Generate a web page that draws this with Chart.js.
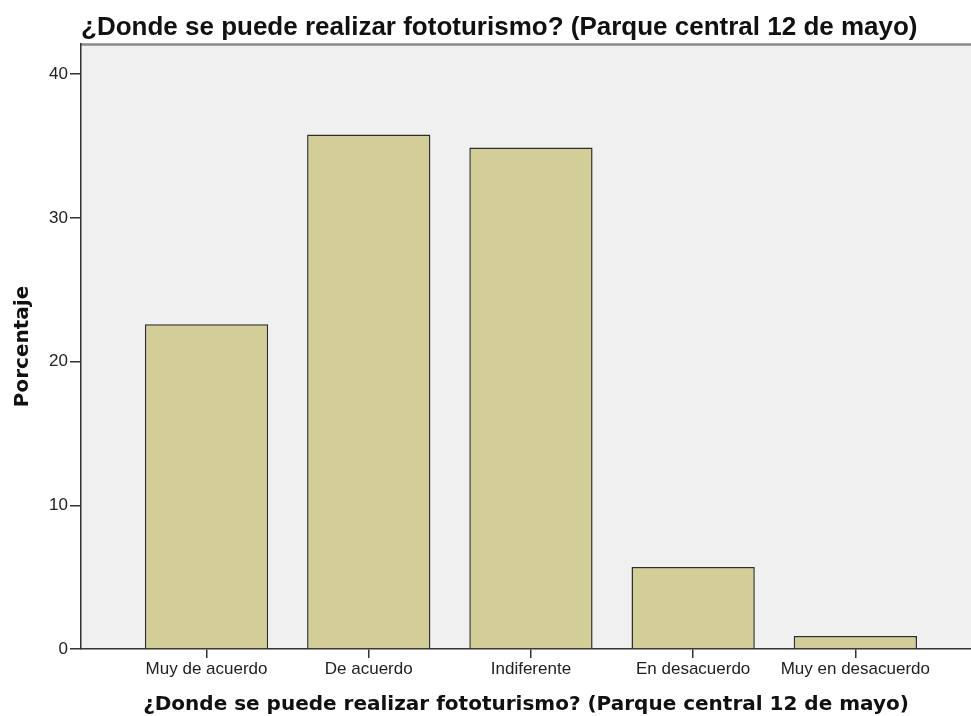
<!DOCTYPE html>
<html>
<head>
<meta charset="utf-8">
<script src="https://cdn.jsdelivr.net/npm/chart.js@4.4.1/dist/chart.umd.min.js"></script>
<style>
html,body{margin:0;padding:0;background:#fff;overflow:hidden;}
canvas{display:block;}
</style>
</head>
<body>
<canvas id="c" width="971" height="716" style="width:971px;height:716px"></canvas>
<script>
const categories = ["Muy de acuerdo", "De acuerdo", "Indiferente", "En desacuerdo", "Muy en desacuerdo"];
const percentages = [22.6, 35.8, 34.9, 5.7, 0.9];
const yTicks = [0, 10, 20, 30, 40];
const titleText = "¿Donde se puede realizar fototurismo? (Parque central 12 de mayo)";
const xTitle = "¿Donde se puede realizar fototurismo? (Parque central 12 de mayo)";
const yTitle = "Porcentaje";

const plotBg = {
  id: 'plotBg',
  beforeDraw(chart) {
    const {ctx, chartArea: a} = chart;
    ctx.save();
    ctx.fillStyle = '#f0f0f0';
    ctx.fillRect(a.left, a.top, a.right - a.left, a.bottom - a.top);
    ctx.strokeStyle = '#8a8a8a';
    ctx.lineWidth = 2.5;
    ctx.beginPath();
    ctx.moveTo(a.left, a.top + 0.5);
    ctx.lineTo(a.right, a.top + 0.5);
    ctx.stroke();
    ctx.restore();
  }
};

new Chart(document.getElementById('c'), {
  type: 'bar',
  data: {
    datasets: [{
      data: categories.map((c, i) => ({x: i, y: percentages[i]})),
      backgroundColor: '#d3ce98',
      borderColor: '#2e2e2e',
      borderWidth: 1.5,
      barPercentage: 0.76,
      categoryPercentage: 1.0
    }]
  },
  options: {
    responsive: false,
    animation: false,
    devicePixelRatio: 1,
    layout: {padding: 0},
    plugins: {
      legend: {display: false},
      tooltip: {enabled: false},
      title: {
        display: true,
        text: titleText,
        align: 'start',
        fullSize: false,
        color: '#111',
        font: {family: '"Liberation Sans", Arial, sans-serif', size: 26, weight: 'bold', lineHeight: 1.2},
        padding: {top: 12, bottom: 0.8}
      }
    },
    scales: {
      x: {
        type: 'linear',
        min: -0.774,
        max: 4.713,
        offset: false,
        afterBuildTicks: (scale) => { scale.ticks = categories.map((c, i) => ({value: i})); },
        afterFit: (scale) => { scale.height = 67; },
        ticks: {
          autoSkip: false,
          maxRotation: 0,
          minRotation: 0,
          includeBounds: false,
          padding: 1,
          color: '#222',
          font: {family: '"Liberation Sans", Arial, sans-serif', size: 17},
          callback: (v) => categories[v] !== undefined ? categories[v] : ''
        },
        grid: {offset: false, drawOnChartArea: false, drawTicks: true, tickLength: 9, color: '#333', lineWidth: 1.5},
        border: {display: true, color: '#333', width: 1.5},
        title: {
          display: true,
          text: xTitle,
          color: '#111',
          font: {family: '"DejaVu Sans", sans-serif', size: 20, weight: 'bold', lineHeight: 1},
          padding: {top: 0, bottom: 1}
        }
      },
      y: {
        type: 'linear',
        min: 0,
        max: 42.1,
        afterBuildTicks: (scale) => { scale.ticks = yTicks.map(v => ({value: v})); },
        afterFit: (scale) => { scale.width = 81; },
        ticks: {
          includeBounds: false,
          padding: 2,
          color: '#222',
          font: {family: '"Liberation Sans", Arial, sans-serif', size: 17}
        },
        grid: {offset: false, drawOnChartArea: false, drawTicks: true, tickLength: 11, color: '#333', lineWidth: 1.5},
        border: {display: true, color: '#333', width: 1.5},
        title: {
          display: true,
          text: yTitle,
          color: '#111',
          font: {family: '"DejaVu Sans", sans-serif', size: 20, weight: 'bold', lineHeight: 1.2},
          padding: {top: 11, bottom: 0}
        }
      }
    }
  },
  plugins: [plotBg]
});
</script>
</body>
</html>
